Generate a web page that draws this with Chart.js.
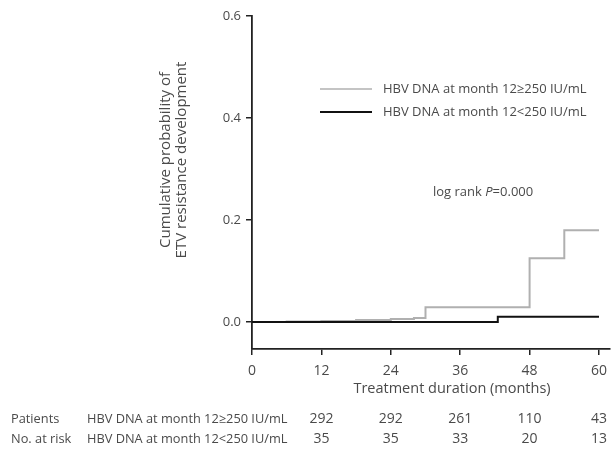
<!DOCTYPE html>
<html>
<head>
<meta charset="utf-8">
<script src="https://cdn.jsdelivr.net/npm/chart.js@4"></script>
<style>
  html, body { margin: 0; padding: 0; background: #fff; }
  #wrap { width: 615px; height: 450px; }
</style>
</head>
<body>
<div id="wrap"><canvas id="kmChart" width="615" height="450"></canvas></div>
<script>
// ---- data ----
const xTicks = [0, 12, 24, 36, 48, 60];
const yTicks = [0, 0.2, 0.4, 0.6];

// HBV DNA at month 12 >= 250 IU/mL (grey)
const highMonths = [0, 6, 12, 18, 24, 28, 30, 48, 54, 60];
const highProb   = [0, 0.001, 0.002, 0.004, 0.006, 0.008, 0.029, 0.125, 0.18, 0.18];

// HBV DNA at month 12 < 250 IU/mL (black)
const lowMonths = [0, 42.5, 60];
const lowProb   = [0, 0.01, 0.01];

const seriesNames = ['HBV DNA at month 12\u2265250 IU/mL', 'HBV DNA at month 12<250 IU/mL'];
const riskMonths = [12, 24, 36, 48, 60];
const riskHigh = [292, 292, 261, 110, 43];
const riskLow  = [35, 35, 33, 20, 13];

const FONT = '"Open Sans", "Noto Sans", sans-serif';
const TEXT = '#4a4a4a';
const GREY = '#b0b0b0';
const BLACK = '#111';

const toPoints = (xs, ys) => xs.map((x, i) => ({ x, y: ys[i] }));

/**
 * Draws axis titles, inset legend, log-rank note and the at-risk table
 */
const annotationsPlugin = {
    id: 'kmAnnotations',
    afterDraw(chart) {
        const { ctx, scales } = chart;
        const xs = scales.x;
        ctx.save();
        ctx.fillStyle = TEXT;
        ctx.textBaseline = 'middle';

        // y axis title (two rotated lines)
        ctx.save();
        ctx.translate(166, 160);
        ctx.rotate(-Math.PI / 2);
        ctx.textAlign = 'center';
        ctx.font = `15px ${FONT}`;
        ctx.fillText('Cumulative probability of', 0, 0);
        ctx.fillText('ETV resistance development', 0, 16);
        ctx.restore();

        // x axis title
        ctx.font = `14.5px ${FONT}`;
        ctx.textAlign = 'center';
        ctx.fillText('Treatment duration (months)', 452, 389);

        // legend
        const legendRows = [
            { color: GREY, width: 1.5, y: 89 },
            { color: BLACK, width: 2, y: 112 }
        ];
        ctx.font = `13px ${FONT}`;
        ctx.textAlign = 'left';
        legendRows.forEach((r, i) => {
            ctx.strokeStyle = r.color;
            ctx.lineWidth = r.width;
            ctx.beginPath();
            ctx.moveTo(320, r.y);
            ctx.lineTo(372, r.y);
            ctx.stroke();
            ctx.fillText(seriesNames[i], 383, r.y);
        });

        // log rank note
        ctx.font = `13px ${FONT}`;
        let x = 433;
        const y = 192;
        ctx.fillText('log rank ', x, y);
        x += ctx.measureText('log rank ').width;
        ctx.font = `italic 13px ${FONT}`;
        ctx.fillText('P', x, y);
        x += ctx.measureText('P').width;
        ctx.font = `13px ${FONT}`;
        ctx.fillText('=0.000', x, y);

        // number at risk table
        ctx.font = `12.8px ${FONT}`;
        ctx.fillText('Patients', 11, 419);
        ctx.fillText('No. at risk', 11, 439);
        ctx.fillText(seriesNames[0], 87, 419);
        ctx.fillText(seriesNames[1], 87, 439);
        ctx.textAlign = 'center';
        ctx.font = `14px ${FONT}`;
        riskMonths.forEach((m, i) => {
            const px = xs.getPixelForValue(m);
            ctx.fillText(String(riskHigh[i]), px, 419);
            ctx.fillText(String(riskLow[i]), px, 439);
        });
        ctx.restore();
    }
};

new Chart(document.getElementById('kmChart').getContext('2d'), {
    type: 'line',
    data: {
        datasets: [
            {
                label: seriesNames[1],
                data: toPoints(lowMonths, lowProb),
                borderColor: BLACK,
                borderWidth: 2,
                stepped: 'before',
                pointRadius: 0,
                fill: false
            },
            {
                label: seriesNames[0],
                data: toPoints(highMonths, highProb),
                borderColor: GREY,
                borderWidth: 2,
                stepped: 'before',
                pointRadius: 0,
                fill: false
            }
        ]
    },
    options: {
        responsive: false,
        animation: false,
        layout: { padding: { top: 16, left: 0, right: 0, bottom: 0 } },
        scales: {
            x: {
                type: 'linear',
                min: 0,
                max: 61.9,
                afterBuildTicks: s => { s.ticks = xTicks.map(v => ({ value: v })); },
                afterFit: s => { s.height = 101; },
                border: { color: '#222', width: 1.8 },
                grid: { drawOnChartArea: false, drawTicks: true, tickLength: 6, color: '#222', lineWidth: 1.5 },
                ticks: {
                    padding: 8,
                    color: TEXT,
                    font: { family: FONT, size: 14 },
                    maxRotation: 0,
                    callback: v => String(v)
                }
            },
            y: {
                type: 'linear',
                min: -0.053,
                max: 0.6,
                afterBuildTicks: s => { s.ticks = yTicks.map(v => ({ value: v })); },
                afterFit: s => { s.width = 252; },
                border: { color: '#222', width: 1.8 },
                grid: { drawOnChartArea: false, drawTicks: true, tickLength: 6, color: '#222', lineWidth: 1.5 },
                ticks: {
                    padding: 5,
                    color: TEXT,
                    font: { family: FONT, size: 13 },
                    callback: v => Number(v).toFixed(1)
                }
            }
        },
        plugins: {
            legend: { display: false },
            tooltip: { enabled: false }
        }
    },
    plugins: [annotationsPlugin]
});
</script>
</body>
</html>
